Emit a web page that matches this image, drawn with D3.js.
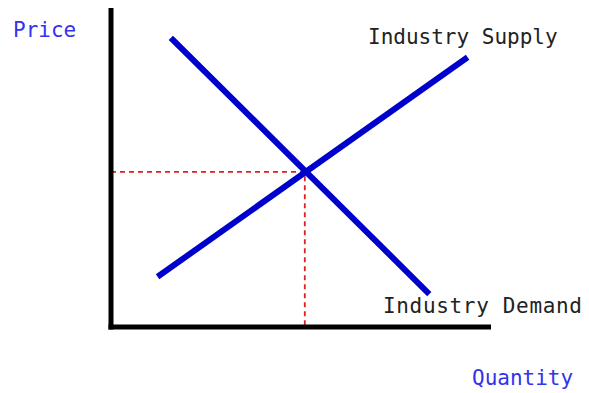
<!DOCTYPE html>
<html>
<head>
<meta charset="utf-8">
<script src="https://cdn.jsdelivr.net/npm/d3@7"></script>
<style>
  body { margin: 0; background: #fff; }
  text { font-family: "DejaVu Sans Mono", monospace; font-size: 21px; }
</style>
</head>
<body>
<div id="chart"></div>
<script>
var width = 589
var height = 393

// curve end points, in chart units (0..10 on both axes)
var demand = [[1.63, 9.0], [8.32, 1.1]]
var supply = [[1.29, 1.63], [9.32, 8.4]]
var equilibrium = [5.1, 4.86]

var labels = ["Industry Supply", "Industry Demand"]
var axisTitles = ["Price", "Quantity"]

var x = d3.scaleLinear().domain([0, 10]).range([111, 491])
var y = d3.scaleLinear().domain([0, 10]).range([327, 8])

var svg = d3.select("#chart")
    .append("svg")
        .attr("width", width)
        .attr("height", height)

var line = d3.line()
    .x(function(d) { return x(d[0]) })
    .y(function(d) { return y(d[1]) })

// red dashed guides to the equilibrium
svg.append("path")
    .attr("d", line([[0, equilibrium[1]], equilibrium, [equilibrium[0], 0]]))
    .attr("fill", "none")
    .attr("stroke", "#dd2222")
    .attr("stroke-width", 1.8)
    .attr("stroke-dasharray", "5,4")

svg.selectAll("path.curve")
    .data([demand, supply])
    .enter()
    .append("path")
        .attr("class", "curve")
        .attr("d", line)
        .attr("fill", "none")
        .attr("stroke", "#0000cc")
        .attr("stroke-width", 6)
        .attr("stroke-linecap", "square")

// axes
svg.append("line")
    .attr("x1", x(0)).attr("y1", y(10))
    .attr("x2", x(0)).attr("y2", y(0) + 2.5)
    .attr("stroke", "#000")
    .attr("stroke-width", 5)
svg.append("line")
    .attr("x1", x(0) - 2.5).attr("y1", y(0))
    .attr("x2", x(10)).attr("y2", y(0))
    .attr("stroke", "#000")
    .attr("stroke-width", 5)

svg.append("text")
    .attr("x", 368)
    .attr("y", 44)
    .attr("fill", "#222")
    .text(labels[0])

svg.append("text")
    .attr("x", 383)
    .attr("y", 313)
    .attr("fill", "#222")
    .attr("textLength", 199)
    .text(labels[1])

svg.append("text")
    .attr("x", 13)
    .attr("y", 37)
    .attr("fill", "#3333ee")
    .text(axisTitles[0])

svg.append("text")
    .attr("x", 472)
    .attr("y", 385)
    .attr("fill", "#3333ee")
    .text(axisTitles[1])
</script>
</body>
</html>
